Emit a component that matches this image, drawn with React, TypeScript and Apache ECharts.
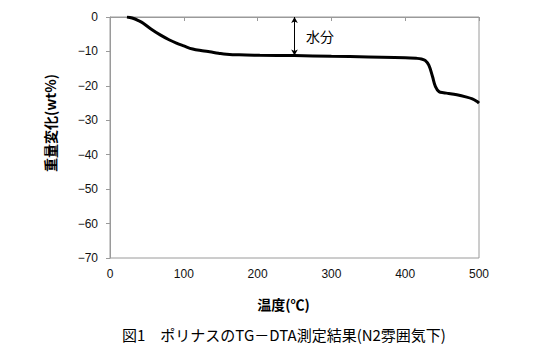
import React, { useEffect, useRef } from "react";
import * as echarts from "echarts";

const temperature = [23, 30, 40, 45, 55, 68, 80, 90, 100, 112, 125, 135, 147, 158, 175, 203, 250, 300, 350, 400, 415, 422, 427, 432, 437, 441, 446, 452, 459, 470, 482, 491, 497, 500];
const weightChange = [0, -0.3, -1.2, -1.8, -3.4, -5.2, -6.6, -7.6, -8.4, -9.3, -9.8, -10.1, -10.5, -10.8, -11.0, -11.1, -11.2, -11.4, -11.6, -11.8, -12.0, -12.2, -12.6, -14.0, -17.3, -20.2, -21.7, -22.0, -22.2, -22.6, -23.2, -23.8, -24.5, -25.0];
const xTicks = { min: 0, max: 500, interval: 100 };
const yTicks = { min: -70, max: 0, interval: 10 };
const moistureT = 250;
const moistureLevel = -11.2;
const moistureLabel = "水分";
const xName = "温度(℃)";
const yName = "重量変化(wt%)";
const caption = "図1　ポリナスのTG－DTA測定結果(N2雰囲気下)";

export default function App() {
  const ref = useRef<HTMLDivElement>(null);
  useEffect(() => {
    if (!ref.current) return;
    const chart = echarts.init(ref.current, undefined, { renderer: "svg" });
    const axisColor = "#9a9a9a";
    const labelFont = "'Liberation Sans', Arial, sans-serif";
    const jpFont = "'Noto Sans CJK JP', sans-serif";
    chart.setOption({
      animation: false,
      backgroundColor: "#ffffff",
      grid: {
        left: 110,
        right: 75,
        top: 17,
        bottom: 95,
        show: true,
        borderColor: axisColor,
        borderWidth: 1,
      },
      xAxis: {
        type: "value",
        min: xTicks.min,
        max: xTicks.max,
        interval: xTicks.interval,
        name: xName,
        nameLocation: "middle",
        nameGap: 39,
        nameTextStyle: { fontFamily: jpFont, fontWeight: "bold", fontSize: 14, color: "#000", padding: [0, 22, 0, 0] },
        axisLine: { show: true, lineStyle: { color: axisColor, width: 1 } },
        axisTick: { show: true, length: 4, lineStyle: { color: axisColor } },
        axisLabel: { color: "#111", fontSize: 12, fontFamily: labelFont, margin: 10 },
        splitLine: { show: false },
      },
      yAxis: {
        type: "value",
        min: yTicks.min,
        max: yTicks.max,
        interval: yTicks.interval,
        axisLine: { show: true, lineStyle: { color: axisColor, width: 1 } },
        axisTick: { show: true, length: 4, lineStyle: { color: axisColor } },
        axisLabel: {
          color: "#111",
          fontSize: 12,
          fontFamily: labelFont,
          margin: 12,
          formatter: (v: number) => String(v).replace("-", "−"),
        },
        splitLine: { show: false },
      },
      series: [
        {
          type: "line",
          data: temperature.map((t, i) => [t, weightChange[i]]),
          smooth: 0.4,
          showSymbol: false,
          lineStyle: { color: "#000", width: 3 },
          markLine: {
            silent: true,
            symbol: ["arrow", "arrow"],
            symbolSize: [5, 6],
            label: { show: false },
            lineStyle: { color: "#000", width: 1, type: "solid" },
            data: [[{ coord: [moistureT, 0] }, { coord: [moistureT, moistureLevel] }]],
          },
        },
      ],
      graphic: [
        {
          type: "text",
          x: 50,
          y: 123,
          rotation: Math.PI / 2,
          style: { text: yName, font: `bold 14px ${jpFont}`, fill: "#000", textAlign: "center", textVerticalAlign: "middle" },
        },
        {
          type: "text",
          x: 306,
          y: 36,
          style: { text: moistureLabel, font: `14px ${jpFont}`, fill: "#000", textVerticalAlign: "middle" },
        },
        {
          type: "text",
          x: 284,
          y: 334,
          style: { text: caption, font: `15px ${jpFont}`, fill: "#000", textAlign: "center", textVerticalAlign: "middle" },
        },
      ],
    });
    return () => chart.dispose();
  }, []);
  return <div ref={ref} style={{ width: 554, height: 353, position: "absolute", left: 0, top: 0 }} />;
}
